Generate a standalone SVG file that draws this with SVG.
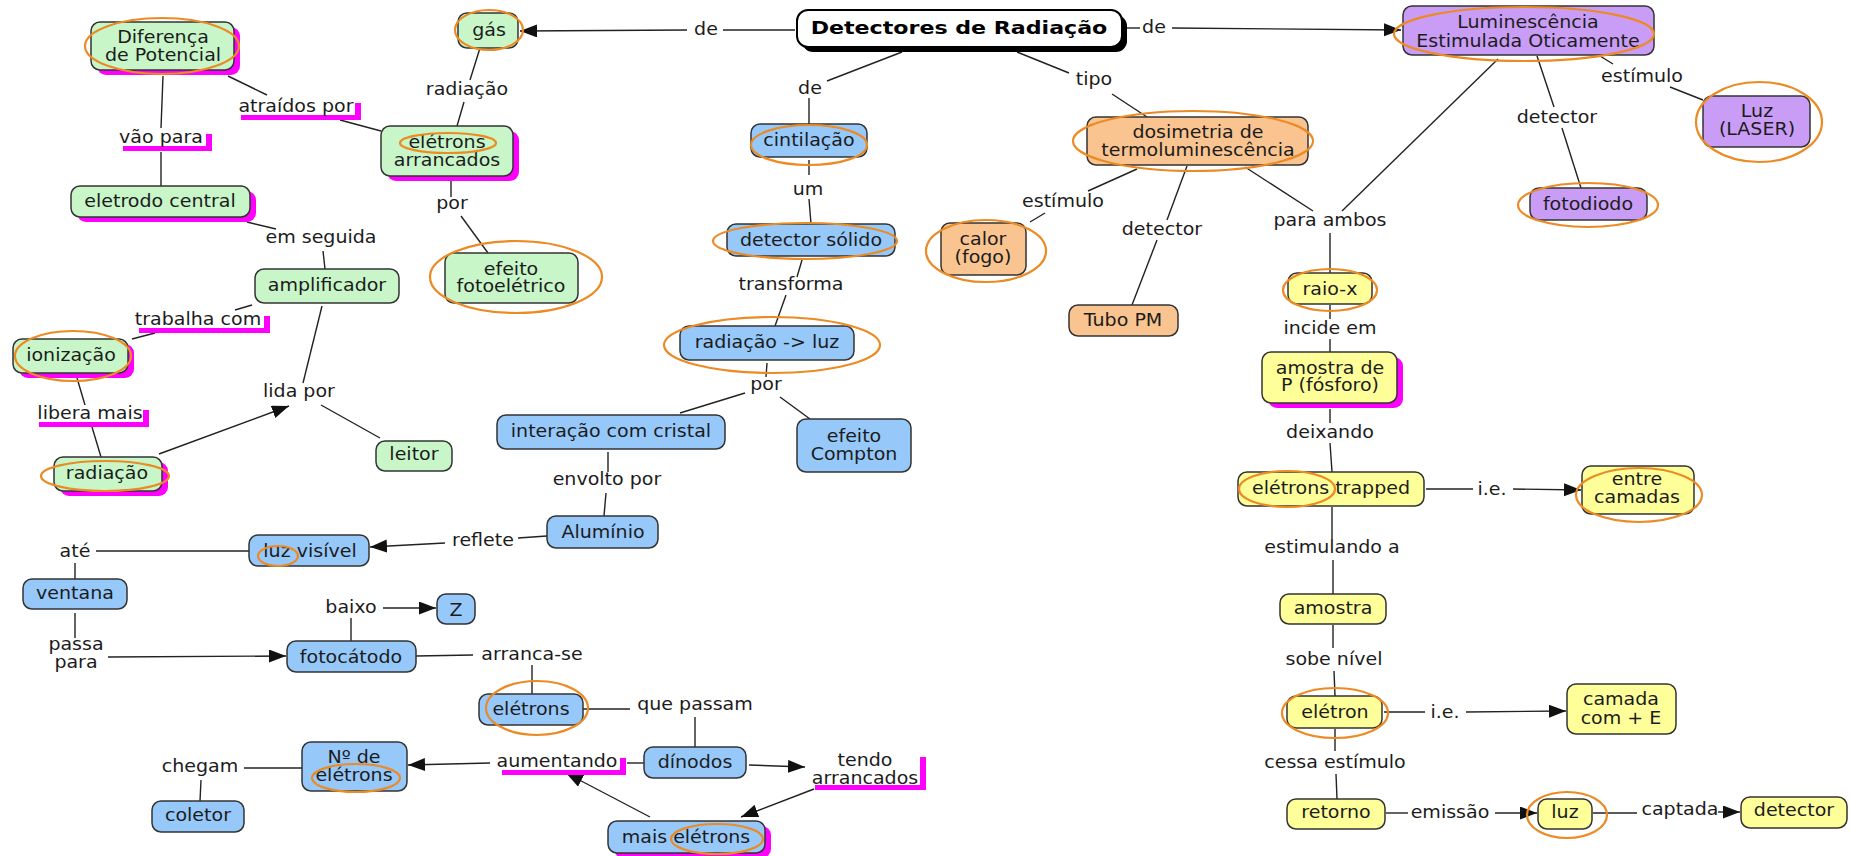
<svg xmlns="http://www.w3.org/2000/svg" width="1851" height="856" viewBox="0 0 1851 856">
<defs>
<marker id="arrow" markerUnits="userSpaceOnUse" markerWidth="18" markerHeight="14" refX="17" refY="6.5" orient="auto"><path d="M0,0 L17,6.5 L0,13 z" fill="#111"/></marker>
<style>
text { font-family: "DejaVu Sans", Verdana, sans-serif; font-size: 17px; fill: #1c1c1c; text-anchor: middle; transform-box: fill-box; transform-origin: center; transform: scaleX(1.12); }
.title { font-weight: bold; font-size: 18px; fill: #000; transform: scaleX(1.23); }
.box { stroke: #333; stroke-width: 1.5; }
.g { fill: #c8f6c8; } .b { fill: #96c8fa; } .o { fill: #f9c490; } .y { fill: #ffff99; } .p { fill: #c99cf5; }
.sh { fill: #ff00ff; }
.lb { fill: #fff; }
#connectors line { stroke: #222; stroke-width: 1.4; }
#connectors line.arr { marker-end: url(#arrow); }
#highlights ellipse { fill: none; stroke: #ec8a24; stroke-width: 2.2; }
</style>
</defs>
<rect width="1851" height="856" fill="#fff"/>

<!-- connectors -->
<g id="connectors">
<line x1="795" y1="30" x2="723" y2="30"/><line class="arr" x1="687" y1="30" x2="520" y2="31"/>
<line x1="480" y1="48" x2="470" y2="80"/><line x1="464" y1="102" x2="457" y2="126"/>
<line x1="228" y1="76" x2="267" y2="95"/><line x1="340" y1="120" x2="381" y2="131"/>
<line x1="163" y1="76" x2="161" y2="128"/><line x1="161" y1="152" x2="161" y2="186"/>
<line x1="247" y1="222" x2="276" y2="229"/><line x1="323" y1="251" x2="325" y2="269"/>
<line x1="451" y1="181" x2="451" y2="197"/><line x1="461" y1="216" x2="488" y2="253"/>
<line x1="252" y1="305" x2="235" y2="310"/><line x1="155" y1="333" x2="132" y2="339"/>
<line x1="77" y1="378" x2="85" y2="405"/><line x1="92" y1="427" x2="101" y2="457"/>
<line class="arr" x1="159" y1="454" x2="289" y2="406"/>
<line x1="322" y1="306" x2="303" y2="383"/><line x1="321" y1="405" x2="380" y2="438"/>
<line x1="902" y1="52" x2="827" y2="81"/><line x1="809" y1="98" x2="809" y2="124"/>
<line x1="809" y1="160" x2="809" y2="175"/><line x1="809" y1="199" x2="811" y2="224"/>
<line x1="802" y1="260" x2="797" y2="277"/><line x1="786" y1="295" x2="775" y2="326"/>
<line x1="767" y1="363" x2="766" y2="377"/><line x1="745" y1="393" x2="680" y2="413"/><line x1="780" y1="397" x2="810" y2="419"/>
<line x1="608" y1="452" x2="608" y2="472"/><line x1="606" y1="493" x2="604" y2="516"/>
<line x1="547" y1="536" x2="518" y2="538"/><line class="arr" x1="445" y1="543" x2="370" y2="547"/>
<line x1="249" y1="551" x2="96" y2="551"/><line x1="75" y1="563" x2="75" y2="579"/>
<line x1="75" y1="613" x2="75" y2="638"/><line class="arr" x1="108" y1="657" x2="286" y2="656"/>
<line x1="351" y1="641" x2="351" y2="618"/><line class="arr" x1="383" y1="608" x2="436" y2="608"/>
<line x1="416" y1="656" x2="473" y2="655"/><line x1="532" y1="665" x2="532" y2="694"/>
<line x1="583" y1="709" x2="630" y2="709"/><line x1="695" y1="717" x2="695" y2="747"/>
<line x1="644" y1="763" x2="627" y2="763"/><line class="arr" x1="490" y1="763" x2="408" y2="765"/>
<line class="arr" x1="749" y1="765" x2="805" y2="767"/>
<line class="arr" x1="814" y1="789" x2="741" y2="817"/>
<line class="arr" x1="650" y1="817" x2="566" y2="773"/>
<line x1="302" y1="768" x2="244" y2="768"/><line x1="201" y1="780" x2="200" y2="801"/>
<line x1="1017" y1="52" x2="1069" y2="73"/><line x1="1112" y1="94" x2="1147" y2="117"/>
<line x1="1127" y1="28" x2="1140" y2="28"/><line class="arr" x1="1172" y1="28" x2="1401" y2="30"/>
<line x1="1137" y1="169" x2="1088" y2="191"/><line x1="1045" y1="213" x2="1030" y2="222"/>
<line x1="1187" y1="166" x2="1167" y2="220"/><line x1="1157" y1="240" x2="1132" y2="305"/>
<line x1="1245" y1="167" x2="1313" y2="211"/><line x1="1498" y1="59" x2="1342" y2="211"/><line x1="1330" y1="233" x2="1330" y2="273"/>
<line x1="1600" y1="56" x2="1613" y2="64"/><line x1="1670" y1="87" x2="1703" y2="100"/>
<line x1="1537" y1="56" x2="1554" y2="107"/><line x1="1562" y1="128" x2="1581" y2="188"/>
<line x1="1330" y1="305" x2="1330" y2="319"/><line x1="1330" y1="339" x2="1330" y2="352"/>
<line x1="1330" y1="409" x2="1330" y2="423"/><line x1="1330" y1="443" x2="1332" y2="472"/>
<line x1="1426" y1="489" x2="1473" y2="489"/><line class="arr" x1="1513" y1="489" x2="1581" y2="490"/>
<line x1="1332" y1="507" x2="1332" y2="539"/><line x1="1333" y1="560" x2="1333" y2="594"/>
<line x1="1333" y1="625" x2="1333" y2="648"/><line x1="1334" y1="671" x2="1335" y2="696"/>
<line x1="1384" y1="712" x2="1425" y2="712"/><line class="arr" x1="1466" y1="712" x2="1566" y2="711"/>
<line x1="1335" y1="729" x2="1335" y2="751"/><line x1="1336" y1="774" x2="1337" y2="799"/>
<line x1="1386" y1="813" x2="1408" y2="813"/><line class="arr" x1="1495" y1="813" x2="1537" y2="813"/>
<line x1="1593" y1="813" x2="1637" y2="813"/><line class="arr" x1="1718" y1="812" x2="1740" y2="812"/>
</g>

<!-- linking phrases -->
<g id="l-de-gas"><text x="706" y="35">de</text></g>
<g id="l-radiacao"><text x="467" y="95">radiação</text></g>
<g id="l-atraidos"><rect class="sh" x="241" y="103" width="120" height="17"/><rect class="lb" x="235" y="98" width="120" height="17"/><text x="296" y="112">atraídos por</text></g>
<g id="l-vao"><rect class="sh" x="123" y="134" width="89" height="17"/><rect class="lb" x="117" y="129" width="89" height="17"/><text x="161" y="143">vão para</text></g>
<g id="l-por1"><text x="452" y="209">por</text></g>
<g id="l-seguida"><text x="321" y="243">em seguida</text></g>
<g id="l-trabalha"><rect class="sh" x="139" y="316" width="131" height="17"/><rect class="lb" x="133" y="311" width="131" height="17"/><text x="198" y="325">trabalha com</text></g>
<g id="l-libera"><rect class="sh" x="39" y="410" width="110" height="17"/><rect class="lb" x="33" y="405" width="110" height="17"/><text x="90" y="419">libera mais</text></g>
<g id="l-lida"><text x="299" y="397">lida por</text></g>
<g id="l-de-cint"><text x="810" y="94">de</text></g>
<g id="l-um"><text x="808" y="195">um</text></g>
<g id="l-transforma"><text x="791" y="290">transforma</text></g>
<g id="l-por2"><text x="766" y="390">por</text></g>
<g id="l-envolto"><text x="607" y="485">envolto por</text></g>
<g id="l-reflete"><text x="483" y="546">reflete</text></g>
<g id="l-ate"><text x="75" y="557">até</text></g>
<g id="l-passa"><text x="76" y="650">passa</text><text x="76" y="668">para</text></g>
<g id="l-baixo"><text x="351" y="613">baixo</text></g>
<g id="l-arranca"><text x="532" y="660">arranca-se</text></g>
<g id="l-passam"><text x="695" y="710">que passam</text></g>
<g id="l-aumentando"><rect class="sh" x="502" y="758" width="124" height="17"/><rect class="lb" x="496" y="753" width="124" height="17"/><text x="557" y="767">aumentando</text></g>
<g id="l-tendo"><rect class="sh" x="815" y="757" width="111" height="33"/><rect class="lb" x="809" y="752" width="111" height="33"/><text x="865" y="766">tendo</text><text x="865" y="784">arrancados</text></g>
<g id="l-chegam"><text x="200" y="772">chegam</text></g>
<g id="l-tipo"><text x="1094" y="85">tipo</text></g>
<g id="l-de-leo"><text x="1154" y="33">de</text></g>
<g id="l-estimulo1"><text x="1063" y="207">estímulo</text></g>
<g id="l-detector1"><text x="1162" y="235">detector</text></g>
<g id="l-ambos"><text x="1330" y="226">para ambos</text></g>
<g id="l-estimulo2"><text x="1642" y="82">estímulo</text></g>
<g id="l-detector2"><text x="1557" y="123">detector</text></g>
<g id="l-incide"><text x="1330" y="334">incide em</text></g>
<g id="l-deixando"><text x="1330" y="438">deixando</text></g>
<g id="l-ie1"><text x="1492" y="495">i.e.</text></g>
<g id="l-estimulando"><text x="1332" y="553">estimulando a</text></g>
<g id="l-sobe"><text x="1334" y="665">sobe nível</text></g>
<g id="l-ie2"><text x="1445" y="718">i.e.</text></g>
<g id="l-cessa"><text x="1335" y="768">cessa estímulo</text></g>
<g id="l-emissao"><text x="1450" y="818">emissão</text></g>
<g id="l-captada"><text x="1680" y="815">captada</text></g>

<!-- concepts -->
<g id="n-detectores"><rect x="802" y="15" width="325" height="37" rx="11" fill="#000"/><rect x="797" y="10" width="325" height="37" rx="11" fill="#fff" stroke="#000" stroke-width="2"/><text class="title" x="959" y="34">Detectores de Radiação</text></g>

<g id="n-diferenca"><rect class="sh" x="97" y="27" width="143" height="48" rx="9"/><rect class="box g" x="91" y="22" width="143" height="48" rx="9"/><text x="163" y="43">Diferença</text><text x="163" y="61">de Potencial</text></g>
<g id="n-eletrodo"><rect class="sh" x="77" y="191" width="179" height="31" rx="9"/><rect class="box g" x="71" y="186" width="179" height="31" rx="9"/><text x="160" y="207">eletrodo central</text></g>
<g id="n-arrancados"><rect class="sh" x="387" y="131" width="132" height="50" rx="9"/><rect class="box g" x="381" y="126" width="132" height="50" rx="9"/><text x="447" y="148">elétrons</text><text x="447" y="166">arrancados</text></g>
<g id="n-gas"><rect class="box g" x="458" y="13" width="60" height="35" rx="9"/><text x="489" y="36">gás</text></g>
<g id="n-fotoeletrico"><rect class="box g" x="445" y="253" width="133" height="50" rx="9"/><text x="511" y="275">efeito</text><text x="511" y="292">fotoelétrico</text></g>
<g id="n-amplificador"><rect class="box g" x="255" y="269" width="144" height="34" rx="9"/><text x="327" y="291">amplificador</text></g>
<g id="n-ionizacao"><rect class="sh" x="19" y="344" width="115" height="34" rx="9"/><rect class="box g" x="13" y="339" width="115" height="34" rx="9"/><text x="71" y="361">ionização</text></g>
<g id="n-radiacao"><rect class="sh" x="60" y="462" width="108" height="34" rx="9"/><rect class="box g" x="54" y="457" width="108" height="34" rx="9"/><text x="107" y="479">radiação</text></g>
<g id="n-leitor"><rect class="box g" x="376" y="441" width="76" height="30" rx="9"/><text x="414" y="460">leitor</text></g>

<g id="n-cintilacao"><rect class="box b" x="751" y="124" width="116" height="33" rx="9"/><text x="809" y="146">cintilação</text></g>
<g id="n-solido"><rect class="box b" x="727" y="224" width="168" height="32" rx="9"/><text x="811" y="246">detector sólido</text></g>
<g id="n-radluz"><rect class="box b" x="680" y="326" width="174" height="34" rx="9"/><text x="767" y="348">radiação -&gt; luz</text></g>
<g id="n-interacao"><rect class="box b" x="497" y="415" width="228" height="34" rx="9"/><text x="611" y="437">interação com cristal</text></g>
<g id="n-compton"><rect class="box b" x="797" y="419" width="114" height="53" rx="9"/><text x="854" y="442">efeito</text><text x="854" y="460">Compton</text></g>
<g id="n-aluminio"><rect class="box b" x="547" y="516" width="111" height="32" rx="9"/><text x="603" y="538">Alumínio</text></g>
<g id="n-luzvisivel"><rect class="box b" x="249" y="535" width="120" height="31" rx="9"/><text x="310" y="557">luz visível</text></g>
<g id="n-ventana"><rect class="box b" x="23" y="579" width="104" height="30" rx="9"/><text x="75" y="599">ventana</text></g>
<g id="n-fotocatodo"><rect class="box b" x="287" y="641" width="129" height="31" rx="9"/><text x="351" y="663">fotocátodo</text></g>
<g id="n-z"><rect class="box b" x="437" y="594" width="38" height="30" rx="9"/><text x="456" y="616">Z</text></g>
<g id="n-eletrons"><rect class="box b" x="479" y="694" width="104" height="31" rx="9"/><text x="531" y="715">elétrons</text></g>
<g id="n-dinodos"><rect class="box b" x="644" y="747" width="102" height="31" rx="9"/><text x="695" y="768">dínodos</text></g>
<g id="n-numero"><rect class="box b" x="302" y="742" width="105" height="49" rx="9"/><text x="354" y="763">Nº de</text><text x="354" y="781">elétrons</text></g>
<g id="n-coletor"><rect class="box b" x="152" y="801" width="92" height="31" rx="9"/><text x="198" y="821">coletor</text></g>
<g id="n-mais"><rect class="sh" x="614" y="826" width="157" height="32" rx="9"/><rect class="box b" x="608" y="821" width="157" height="32" rx="9"/><text x="686" y="843">mais elétrons</text></g>

<g id="n-dosimetria"><rect class="box o" x="1087" y="117" width="221" height="48" rx="9"/><text x="1198" y="138">dosimetria de</text><text x="1198" y="156">termoluminescência</text></g>
<g id="n-calor"><rect class="box o" x="941" y="223" width="85" height="52" rx="9"/><text x="983" y="245">calor</text><text x="983" y="263">(fogo)</text></g>
<g id="n-tubo"><rect class="box o" x="1069" y="305" width="109" height="31" rx="9"/><text x="1123" y="326">Tubo PM</text></g>

<g id="n-leo"><rect class="box p" x="1403" y="6" width="251" height="49" rx="9"/><text x="1528" y="28">Luminescência</text><text x="1528" y="47">Estimulada Oticamente</text></g>
<g id="n-laser"><rect class="box p" x="1703" y="96" width="107" height="51" rx="9"/><text x="1757" y="117">Luz</text><text x="1757" y="135">(LASER)</text></g>
<g id="n-fotodiodo"><rect class="box p" x="1530" y="188" width="117" height="32" rx="9"/><text x="1588" y="210">fotodiodo</text></g>

<g id="n-raiox"><rect class="box y" x="1288" y="273" width="84" height="31" rx="9"/><text x="1330" y="295">raio-x</text></g>
<g id="n-amostrap"><rect class="sh" x="1268" y="357" width="135" height="51" rx="9"/><rect class="box y" x="1262" y="352" width="135" height="51" rx="9"/><text x="1330" y="374">amostra de</text><text x="1330" y="391">P (fósforo)</text></g>
<g id="n-trapped"><rect class="box y" x="1238" y="472" width="186" height="34" rx="9"/><text x="1331" y="494">elétrons trapped</text></g>
<g id="n-entre"><rect class="box y" x="1582" y="466" width="112" height="48" rx="9"/><text x="1637" y="485">entre</text><text x="1637" y="503">camadas</text></g>
<g id="n-amostra"><rect class="box y" x="1280" y="594" width="106" height="30" rx="9"/><text x="1333" y="614">amostra</text></g>
<g id="n-eletron"><rect class="box y" x="1287" y="696" width="95" height="32" rx="9"/><text x="1335" y="718">elétron</text></g>
<g id="n-camada"><rect class="box y" x="1567" y="684" width="109" height="50" rx="9"/><text x="1621" y="705">camada</text><text x="1621" y="724">com + E</text></g>
<g id="n-retorno"><rect class="box y" x="1287" y="799" width="98" height="30" rx="9"/><text x="1336" y="818">retorno</text></g>
<g id="n-luz"><rect class="box y" x="1538" y="799" width="54" height="30" rx="9"/><text x="1565" y="818">luz</text></g>
<g id="n-detector"><rect class="box y" x="1741" y="797" width="106" height="31" rx="9"/><text x="1794" y="816">detector</text></g>

<!-- hand-drawn style highlight rings -->
<g id="highlights">
<ellipse cx="162" cy="46" rx="77" ry="28"/>
<ellipse cx="489" cy="30" rx="34" ry="20"/>
<ellipse cx="448" cy="143" rx="48" ry="10"/>
<ellipse cx="516" cy="277" rx="86" ry="36"/>
<ellipse cx="73" cy="356" rx="58" ry="25"/>
<ellipse cx="105" cy="476" rx="64" ry="15"/>
<ellipse cx="809" cy="145" rx="58" ry="20"/>
<ellipse cx="805" cy="241" rx="92" ry="18"/>
<ellipse cx="772" cy="345" rx="108" ry="28"/>
<ellipse cx="278" cy="556" rx="20" ry="10"/>
<ellipse cx="537" cy="708" rx="51" ry="27"/>
<ellipse cx="356" cy="778" rx="44" ry="14"/>
<ellipse cx="717" cy="839" rx="46" ry="15"/>
<ellipse cx="1193" cy="141" rx="120" ry="30"/>
<ellipse cx="986" cy="251" rx="60" ry="31"/>
<ellipse cx="1524" cy="34" rx="130" ry="27"/>
<ellipse cx="1759" cy="122" rx="63" ry="40"/>
<ellipse cx="1588" cy="205" rx="70" ry="22"/>
<ellipse cx="1330" cy="290" rx="47" ry="21"/>
<ellipse cx="1287" cy="489" rx="48" ry="18"/>
<ellipse cx="1639" cy="495" rx="63" ry="27"/>
<ellipse cx="1335" cy="713" rx="53" ry="25"/>
<ellipse cx="1567" cy="815" rx="40" ry="23"/>
</g>
</svg>
